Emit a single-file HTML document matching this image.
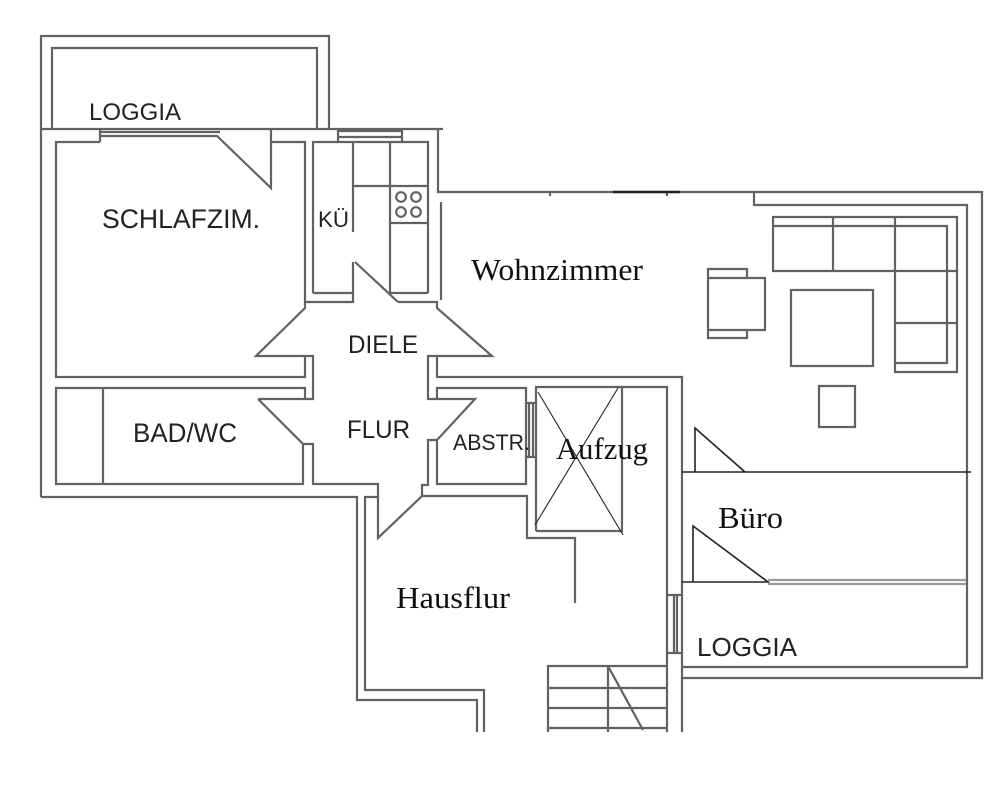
<!DOCTYPE html>
<html>
<head>
<meta charset="utf-8">
<style>
  html,body{margin:0;padding:0;background:#fff;}
  svg{display:block;}
  .s{font-family:"Liberation Sans",Arial,sans-serif;fill:#222;}
  .r{font-family:"Liberation Serif","Times New Roman",serif;fill:#111;}
</style>
</head>
<body>
<svg width="1000" height="802" viewBox="0 0 1000 802" xmlns="http://www.w3.org/2000/svg">
  <rect width="1000" height="802" fill="#fff"/>
  <g fill="none" stroke="#626262" stroke-width="2.2" stroke-linejoin="miter" stroke-linecap="butt">
    <!-- outer left / top loggia -->
    <path d="M41,497 V36 H329 V129"/>
    <path d="M52,129 V48 H317 V129"/>
    <path d="M41,129 H443"/>
    <!-- outer bottom-left & hausflur -->
    <path d="M41,497 H357 V700 H477 V732"/>
    <path d="M378,497 H365 V690 H484 V732"/>
    <!-- schlafzimmer -->
    <path d="M100,142 H56 V377 H305 V356"/>
    <path d="M100,129 V142"/>
    <path d="M100,132 H220"/>
    <path d="M100,136 H217 L271,188 V129"/>
    <path d="M271,142 H305 V308 L256,356 H313 V399 H258"/>
    <!-- bad -->
    <path d="M258,399 L303,444 V484 H56 V388 H305 V399"/>
    <path d="M103,388 V484"/>
    <path d="M303,444 H313 V484 H378 V538 L422,496 H527 V538 H575 V603"/>
    <!-- kitchen -->
    <path d="M313,293 V142 H428 V293"/>
    <path d="M338,129 V142 M402,129 V142 M338,131 H402 M338,137 H402"/>
    <path d="M313,293 H353 V302 H305"/>
    <path d="M353,142 V232"/>
    <path d="M353,262 V293"/>
    <path d="M355,262 L398,302"/>
    <path d="M353,186 H428"/>
    <path d="M390,142 V293"/>
    <path d="M390,223 H428"/>
    <path d="M390,293 H428"/>
    <circle cx="401" cy="197" r="4.8"/>
    <circle cx="416" cy="197" r="4.8"/>
    <circle cx="401" cy="212" r="4.8"/>
    <circle cx="416" cy="212" r="4.8"/>
    <!-- kitchen / wohn wall -->
    <path d="M438,129 V192 H982 V678 H682"/>
    <path d="M441,202 V300"/>
    <path d="M754,192 V205 H967 V667 H682"/>
    <!-- diele right / abstr -->
    <path d="M398,302 H437 V308 L492,356 H428 V399 H475 L437,440 V484 H526 V388 H437 V399"/>
    <path d="M437,356 V377 H682 V732"/>
    <path d="M437,440 H428 V485 H422 V496"/>
    <!-- aufzug -->
    <path d="M536,531 V387 H667 V732"/>
    <path d="M536,531 H622 V387"/>
    <path d="M526,403 H535 M526,457 H535 M529,403 V457 M533,403 V457"/>
    <!-- window on right hausflur wall -->
    <path d="M668,595 H682 M668,653 H682 M674,595 V653 M677,595 V653"/>
    <!-- stairs -->
    <path d="M548,732 V666 H668 M548,688 H668 M548,708 H668 M548,728 H668 M608,666 V732 M608,666 L643,730"/>
    <!-- wohn top tick -->
    <path d="M550,192 V196 M667,192 V196"/>
    <!-- furniture: chair/table -->
    <path d="M708,269 H747 V278 H765 V330 H747 V338 H708 Z"/>
    <path d="M708,278 H747 M708,330 H747"/>
    <!-- sofa -->
    <path d="M773,217 H957 V372 H895 V271 H773 Z"/>
    <path d="M773,226 H947 V363 H895"/>
    <path d="M833,217 V271 M895,217 V271 M895,271 H957 M895,323 H957"/>
    <!-- coffee table & small square -->
    <rect x="791" y="290" width="82" height="76"/>
    <rect x="819" y="386" width="36" height="41"/>
    <!-- büro lower grey wall -->
    <path d="M768,580 H966 M768,584 H966" stroke="#9a9a9a"/>
  </g>
  <!-- dark lines -->
  <g fill="none" stroke="#222" stroke-width="1.6">
    <path d="M613,192 H680" stroke-width="2.4"/>
    <path d="M682,472 H971"/>
    <path d="M695,472 V428 L745,472"/>
    <path d="M693,582 V526 L768,582 H682"/>
    <path d="M538,392 L623,535 M618,388 L535,525" stroke-width="1.1"/>
  </g>
  <!-- sans labels -->
  <text class="s" x="89" y="120" font-size="24" textLength="92" lengthAdjust="spacingAndGlyphs">LOGGIA</text>
  <text class="s" x="102" y="228" font-size="27" textLength="158" lengthAdjust="spacingAndGlyphs">SCHLAFZIM.</text>
  <text class="s" x="318" y="227" font-size="22" textLength="31" lengthAdjust="spacingAndGlyphs">KÜ</text>
  <text class="s" x="348" y="353" font-size="25" textLength="70" lengthAdjust="spacingAndGlyphs">DIELE</text>
  <text class="s" x="347" y="438" font-size="25" textLength="63" lengthAdjust="spacingAndGlyphs">FLUR</text>
  <text class="s" x="133" y="442" font-size="27" textLength="104" lengthAdjust="spacingAndGlyphs">BAD/WC</text>
  <text class="s" x="453" y="450" font-size="22" textLength="77" lengthAdjust="spacingAndGlyphs">ABSTR.</text>
  <text class="s" x="697" y="656" font-size="26" textLength="100" lengthAdjust="spacingAndGlyphs">LOGGIA</text>
  <!-- serif labels -->
  <text class="r" x="471" y="280" font-size="31" textLength="172" lengthAdjust="spacingAndGlyphs">Wohnzimmer</text>
  <text class="r" x="556" y="459" font-size="31" textLength="92" lengthAdjust="spacingAndGlyphs">Aufzug</text>
  <text class="r" x="718" y="528" font-size="31" textLength="65" lengthAdjust="spacingAndGlyphs">Büro</text>
  <text class="r" x="396" y="608" font-size="31" textLength="114" lengthAdjust="spacingAndGlyphs">Hausflur</text>
</svg>
</body>
</html>
